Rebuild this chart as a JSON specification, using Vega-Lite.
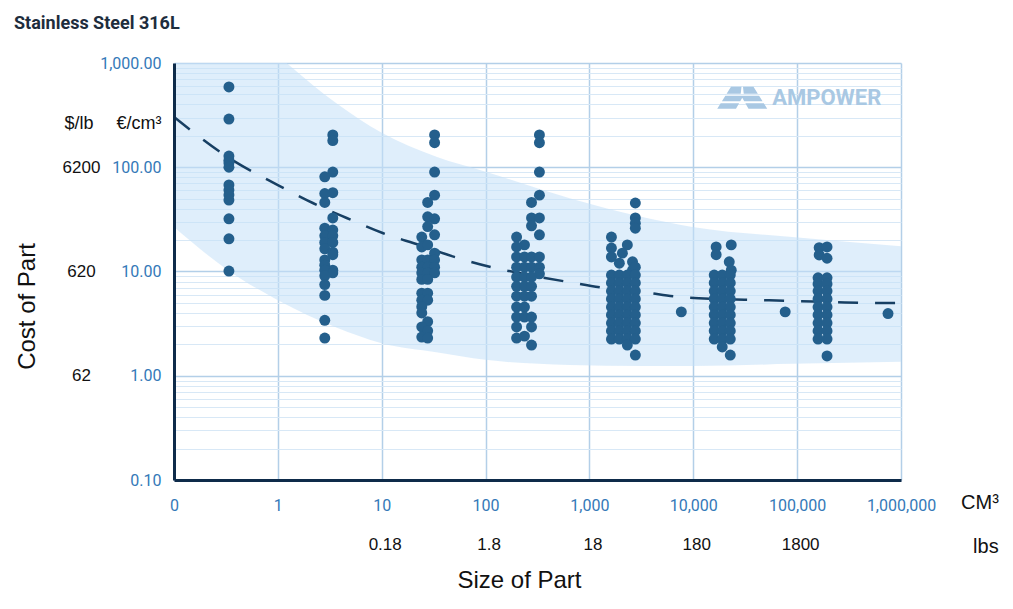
{
  "$schema": "https://vega.github.io/schema/vega-lite/v6.json",
  "width": 727,
  "height": 417,
  "autosize": {"type": "none"},
  "padding": {"left": 174, "top": 63, "right": 112, "bottom": 129},
  "background": "white",
  "config": {"view": {"stroke": null}},
  "title": {
    "text": "Stainless Steel 316L",
    "anchor": "start",
    "frame": "group",
    "dx": -160,
    "offset": 22,
    "font": "Roboto",
    "fontSize": 18,
    "fontWeight": "bold",
    "color": "#1e2d3d"
  },
  "datasets": {
    "band": [
      {"size": 0.1, "hi": 11000, "lo": 26.7},
      {"size": 0.33, "hi": 3160, "lo": 10.3},
      {"size": 1, "hi": 1180, "lo": 5.3},
      {"size": 3.66, "hi": 411, "lo": 2.9},
      {"size": 10, "hi": 214, "lo": 2.05},
      {"size": 33.6, "hi": 126, "lo": 1.68},
      {"size": 100, "hi": 90.6, "lo": 1.42},
      {"size": 645, "hi": 50.4, "lo": 1.27},
      {"size": 3230, "hi": 33.3, "lo": 1.24},
      {"size": 9800, "hi": 26.7, "lo": 1.24},
      {"size": 89500, "hi": 21.4, "lo": 1.3},
      {"size": 1000000, "hi": 17.5, "lo": 1.36}
    ],
    "trend": [
      {"size": 0.1, "cost": 303},
      {"size": 0.33, "cost": 125},
      {"size": 1, "cost": 67.5},
      {"size": 2.17, "cost": 45.4},
      {"size": 4.6, "cost": 32.6},
      {"size": 10.2, "cost": 23.4},
      {"size": 23.2, "cost": 17.9},
      {"size": 50, "cost": 13.8},
      {"size": 114, "cost": 11.0},
      {"size": 265, "cost": 9.25},
      {"size": 640, "cost": 7.9},
      {"size": 1390, "cost": 6.95},
      {"size": 3230, "cost": 6.36},
      {"size": 7670, "cost": 5.69},
      {"size": 17000, "cost": 5.45},
      {"size": 40500, "cost": 5.33},
      {"size": 89500, "cost": 5.21},
      {"size": 218000, "cost": 5.1},
      {"size": 493000, "cost": 4.99},
      {"size": 1000000, "cost": 4.99}
    ],
    "pts": [
      {"size": 0.338, "cost": 589}, {"size": 0.338, "cost": 290}, {"size": 0.338, "cost": 128},
      {"size": 0.338, "cost": 117}, {"size": 0.338, "cost": 110}, {"size": 0.338, "cost": 100},
      {"size": 0.338, "cost": 67.6}, {"size": 0.338, "cost": 60.5}, {"size": 0.338, "cost": 54.2},
      {"size": 0.338, "cost": 48.5}, {"size": 0.338, "cost": 32}, {"size": 0.338, "cost": 20.6},
      {"size": 0.338, "cost": 10.1},

      {"size": 3.38, "cost": 204}, {"size": 3.38, "cost": 180}, {"size": 3.38, "cost": 90},
      {"size": 2.83, "cost": 81}, {"size": 3.38, "cost": 57}, {"size": 2.83, "cost": 56},
      {"size": 2.83, "cost": 46}, {"size": 3.38, "cost": 32.6}, {"size": 2.83, "cost": 26},
      {"size": 3.38, "cost": 25}, {"size": 2.83, "cost": 22}, {"size": 3.38, "cost": 22},
      {"size": 2.83, "cost": 19}, {"size": 3.38, "cost": 19}, {"size": 2.83, "cost": 16.5},
      {"size": 3.38, "cost": 15.3}, {"size": 3.38, "cost": 14.5}, {"size": 2.83, "cost": 12.9},
      {"size": 2.83, "cost": 11.5}, {"size": 3.38, "cost": 10.3}, {"size": 2.83, "cost": 10.3},
      {"size": 3.38, "cost": 9.7}, {"size": 2.83, "cost": 9.1}, {"size": 2.83, "cost": 7.5},
      {"size": 2.83, "cost": 5.9}, {"size": 2.83, "cost": 3.4}, {"size": 2.83, "cost": 2.3},

      {"size": 32.3, "cost": 204}, {"size": 32.3, "cost": 172}, {"size": 32.3, "cost": 90},
      {"size": 32.3, "cost": 54}, {"size": 27.7, "cost": 46}, {"size": 27.7, "cost": 33.5},
      {"size": 32.3, "cost": 32}, {"size": 27.7, "cost": 27}, {"size": 32.3, "cost": 22.5},
      {"size": 24.3, "cost": 21.4}, {"size": 24.3, "cost": 17.2}, {"size": 27.7, "cost": 18},
      {"size": 32.3, "cost": 15}, {"size": 24.3, "cost": 12.9}, {"size": 27.7, "cost": 12.9},
      {"size": 32.3, "cost": 12.9}, {"size": 24.3, "cost": 11}, {"size": 27.7, "cost": 11},
      {"size": 32.3, "cost": 11}, {"size": 24.3, "cost": 9.7}, {"size": 27.7, "cost": 9.7},
      {"size": 32.3, "cost": 9.7}, {"size": 24.3, "cost": 8.4}, {"size": 27.7, "cost": 8.4},
      {"size": 24.3, "cost": 6.2}, {"size": 27.7, "cost": 6.2}, {"size": 24.3, "cost": 5.3},
      {"size": 27.7, "cost": 5.3}, {"size": 24.3, "cost": 4.6}, {"size": 24.3, "cost": 4.0},
      {"size": 27.7, "cost": 3.3}, {"size": 24.3, "cost": 2.94}, {"size": 27.7, "cost": 2.7},
      {"size": 24.3, "cost": 2.35}, {"size": 27.7, "cost": 2.3},

      {"size": 330, "cost": 204}, {"size": 330, "cost": 172}, {"size": 330, "cost": 90},
      {"size": 330, "cost": 54}, {"size": 277, "cost": 46}, {"size": 277, "cost": 32.6},
      {"size": 330, "cost": 32.6}, {"size": 277, "cost": 27.4}, {"size": 330, "cost": 22.5},
      {"size": 199, "cost": 21.4}, {"size": 237, "cost": 18}, {"size": 199, "cost": 17.2},
      {"size": 199, "cost": 13.8}, {"size": 237, "cost": 13.8}, {"size": 277, "cost": 13.8}, {"size": 330, "cost": 13.8},
      {"size": 199, "cost": 11}, {"size": 237, "cost": 11}, {"size": 277, "cost": 11}, {"size": 330, "cost": 11},
      {"size": 330, "cost": 9.5},
      {"size": 199, "cost": 8.85}, {"size": 237, "cost": 8.85}, {"size": 277, "cost": 8.85},
      {"size": 199, "cost": 7.2}, {"size": 237, "cost": 7.2}, {"size": 277, "cost": 7.2},
      {"size": 199, "cost": 5.8}, {"size": 237, "cost": 5.8}, {"size": 277, "cost": 5.8},
      {"size": 199, "cost": 4.56}, {"size": 237, "cost": 4.56},
      {"size": 199, "cost": 3.66}, {"size": 237, "cost": 3.66}, {"size": 277, "cost": 3.66},
      {"size": 199, "cost": 2.94}, {"size": 277, "cost": 2.94},
      {"size": 199, "cost": 2.3}, {"size": 237, "cost": 2.4}, {"size": 277, "cost": 1.97},

      {"size": 2767, "cost": 45.4}, {"size": 2767, "cost": 32.6}, {"size": 2767, "cost": 29},
      {"size": 2767, "cost": 26}, {"size": 1629, "cost": 21.4}, {"size": 1629, "cost": 16.8},
      {"size": 2317, "cost": 18}, {"size": 2076, "cost": 15}, {"size": 1629, "cost": 13.8},
      {"size": 2600, "cost": 12.4}, {"size": 2600, "cost": 10.3}, {"size": 1941, "cost": 12},
      {"size": 2767, "cost": 11},
      {"size": 1629, "cost": 9.25}, {"size": 1941, "cost": 9.25}, {"size": 2317, "cost": 9.25}, {"size": 2767, "cost": 9.25},
      {"size": 1629, "cost": 7.76}, {"size": 1941, "cost": 7.76}, {"size": 2317, "cost": 7.76}, {"size": 2767, "cost": 7.76},
      {"size": 1629, "cost": 6.5}, {"size": 1941, "cost": 6.5}, {"size": 2317, "cost": 6.5}, {"size": 2767, "cost": 6.5},
      {"size": 1629, "cost": 5.45}, {"size": 1941, "cost": 5.45}, {"size": 2317, "cost": 5.45}, {"size": 2767, "cost": 5.45},
      {"size": 1629, "cost": 4.56}, {"size": 1941, "cost": 4.56}, {"size": 2317, "cost": 4.56}, {"size": 2767, "cost": 4.56},
      {"size": 1629, "cost": 3.83}, {"size": 1941, "cost": 3.83}, {"size": 2317, "cost": 3.83}, {"size": 2767, "cost": 3.83},
      {"size": 1629, "cost": 3.2}, {"size": 1941, "cost": 3.2}, {"size": 2317, "cost": 3.2}, {"size": 2767, "cost": 3.2},
      {"size": 1629, "cost": 2.69}, {"size": 1941, "cost": 2.69}, {"size": 2317, "cost": 2.69}, {"size": 2767, "cost": 2.69},
      {"size": 1629, "cost": 2.25}, {"size": 1941, "cost": 2.25}, {"size": 2317, "cost": 2.25}, {"size": 2767, "cost": 2.25},
      {"size": 2317, "cost": 1.97}, {"size": 2767, "cost": 1.58},

      {"size": 7670, "cost": 4.1},

      {"size": 16600, "cost": 17.2}, {"size": 23200, "cost": 18}, {"size": 16600, "cost": 14.5},
      {"size": 22200, "cost": 12.4}, {"size": 23200, "cost": 10.3},
      {"size": 15900, "cost": 9.25}, {"size": 19000, "cost": 9.25}, {"size": 22700, "cost": 9.25},
      {"size": 15900, "cost": 7.76}, {"size": 19000, "cost": 7.76}, {"size": 22700, "cost": 7.76},
      {"size": 15900, "cost": 6.5}, {"size": 19000, "cost": 6.5}, {"size": 22700, "cost": 6.5},
      {"size": 15900, "cost": 5.45}, {"size": 19000, "cost": 5.45}, {"size": 22700, "cost": 5.45},
      {"size": 15900, "cost": 4.56}, {"size": 19000, "cost": 4.56}, {"size": 22700, "cost": 4.56},
      {"size": 15900, "cost": 3.83}, {"size": 19000, "cost": 3.83}, {"size": 22700, "cost": 3.83},
      {"size": 15900, "cost": 3.2}, {"size": 19000, "cost": 3.2}, {"size": 22700, "cost": 3.2},
      {"size": 15900, "cost": 2.69}, {"size": 19000, "cost": 2.69}, {"size": 22700, "cost": 2.69},
      {"size": 15900, "cost": 2.25}, {"size": 19000, "cost": 2.25}, {"size": 22700, "cost": 2.25},
      {"size": 19000, "cost": 1.89}, {"size": 22700, "cost": 1.58},

      {"size": 76700, "cost": 4.1},

      {"size": 163000, "cost": 16.9}, {"size": 194000, "cost": 17.2}, {"size": 163000, "cost": 14.4},
      {"size": 194000, "cost": 13.4},
      {"size": 159000, "cost": 8.7}, {"size": 194000, "cost": 8.7},
      {"size": 159000, "cost": 7.6}, {"size": 194000, "cost": 7.6},
      {"size": 159000, "cost": 6.5}, {"size": 194000, "cost": 6.5},
      {"size": 159000, "cost": 5.45}, {"size": 194000, "cost": 5.45},
      {"size": 159000, "cost": 4.56}, {"size": 194000, "cost": 4.56},
      {"size": 159000, "cost": 3.83}, {"size": 194000, "cost": 3.83},
      {"size": 159000, "cost": 3.2}, {"size": 194000, "cost": 3.2},
      {"size": 159000, "cost": 2.69}, {"size": 194000, "cost": 2.69},
      {"size": 159000, "cost": 2.25}, {"size": 194000, "cost": 2.25},
      {"size": 194000, "cost": 1.55},

      {"size": 750000, "cost": 3.95}
    ],
    "notes": [
      {"label": "$/lb", "size": 0.0122, "cost": 260},
      {"label": "€/cm³", "size": 0.046, "cost": 260}
    ],
    "units": [
      {"label": "CM³", "size": 5750000, "cost": 0.0596},
      {"label": "lbs", "size": 6560000, "cost": 0.0227}
    ],
    "brand": [
      {"label": "AMPOWER", "size": 57500, "cost": 465, "icon": 29600}
    ]
  },
  "resolve": {"axis": {"x": "independent", "y": "independent"}},
  "layer": [
    {
      "data": {"name": "band"},
      "mark": {"type": "area", "clip": true, "color": "#c4e0f7", "opacity": 0.55, "interpolate": "monotone"},
      "encoding": {
        "x": {
          "field": "size", "type": "quantitative",
          "scale": {"type": "log", "domain": [0.1, 1000000], "nice": false},
          "axis": {
            "orient": "bottom",
            "values": [0.1, 1, 10, 100, 1000, 10000, 100000, 1000000],
            "labelExpr": "datum.value < 0.5 ? '0' : format(datum.value, ',')",
            "grid": true, "gridColor": "#b3cfe8", "gridWidth": 1.5,
            "domain": false, "ticks": false,
            "labelFont": "Roboto", "labelFontSize": 16, "labelFontWeight": "normal", "labelColor": "#3479b8",
            "labelPadding": 17, "labelFlush": false, "labelOverlap": false,
            "title": "Size of Part", "titleFont": "Liberation Sans", "titleFontSize": 24,
            "titleFontWeight": "normal", "titleColor": "#111111",
            "titleX": 345, "titleY": 88, "titleAlign": "center", "titleBaseline": "top"
          }
        },
        "y": {
          "field": "hi", "type": "quantitative",
          "scale": {"type": "log", "domain": [0.1, 1000], "nice": false},
          "axis": {
            "orient": "left",
            "values": [0.1, 0.2, 0.3, 0.4, 0.5, 0.6, 0.7, 0.8, 0.9, 1, 2, 3, 4, 5, 6, 7, 8, 9, 10, 20, 30, 40, 50, 60, 70, 80, 90, 100, 200, 300, 400, 500, 600, 700, 800, 900, 1000],
            "labelExpr": "abs(log(datum.value) / LN10 - round(log(datum.value) / LN10)) < 0.001 ? format(datum.value, ',.2f') : ''",
            "grid": true,
            "gridColor": {"condition": {"test": "abs(log(datum.value) / LN10 - round(log(datum.value) / LN10)) < 0.001", "value": "#b3cfe8"}, "value": "#d8e8f6"},
            "gridWidth": {"condition": {"test": "abs(log(datum.value) / LN10 - round(log(datum.value) / LN10)) < 0.001", "value": 1.5}, "value": 1},
            "domain": false, "ticks": false,
            "labelFont": "Roboto", "labelFontSize": 16, "labelFontWeight": "normal", "labelColor": "#3479b8",
            "labelPadding": 13, "labelFlush": false, "labelOverlap": false,
            "title": "Cost of Part", "titleFont": "Liberation Sans", "titleFontSize": 24,
            "titleFontWeight": "normal", "titleColor": "#111111",
            "titleX": -147, "titleY": 243, "titleAngle": -90, "titleAlign": "center", "titleBaseline": "middle"
          }
        },
        "y2": {"field": "lo"}
      }
    },
    {
      "data": {"name": "trend"},
      "mark": {"type": "line", "color": "#173f63", "strokeWidth": 2.5, "strokeDash": [20, 17], "interpolate": "monotone"},
      "encoding": {
        "x": {"field": "size", "type": "quantitative", "scale": {"type": "log", "domain": [0.1, 1000000], "nice": false}, "axis": null},
        "y": {"field": "cost", "type": "quantitative", "scale": {"type": "log", "domain": [0.1, 1000], "nice": false}, "axis": null}
      }
    },
    {
      "data": {"name": "pts"},
      "mark": {"type": "circle", "size": 120, "color": "#245f8c", "opacity": 1},
      "encoding": {
        "x": {
          "field": "size", "type": "quantitative",
          "scale": {"type": "log", "domain": [0.1, 1000000], "nice": false},
          "axis": {
            "orient": "bottom",
            "values": [10, 100, 1000, 10000, 100000],
            "labelExpr": "['0.18', '1.8', '18', '180', '1800'][round(log(datum.value) / LN10) - 1]",
            "grid": false, "ticks": false,
            "domain": true, "domainColor": "#0e2b4a", "domainWidth": 3,
            "labelFont": "Liberation Sans", "labelFontSize": 17, "labelColor": "#111111",
            "labelPadding": 56, "labelOffset": 3, "labelFlush": false, "labelOverlap": false,
            "title": null, "zindex": 1
          }
        },
        "y": {
          "field": "cost", "type": "quantitative",
          "scale": {"type": "log", "domain": [0.1, 1000], "nice": false},
          "axis": {
            "orient": "left",
            "values": [1, 10, 100],
            "labelExpr": "['62', '620', '6200'][round(log(datum.value) / LN10)]",
            "grid": false, "ticks": false,
            "domain": true, "domainColor": "#0e2b4a", "domainWidth": 3,
            "labelFont": "Liberation Sans", "labelFontSize": 17, "labelColor": "#111111",
            "labelAlign": "center", "labelPadding": 93, "labelFlush": false, "labelOverlap": false,
            "title": null, "zindex": 1
          }
        }
      }
    },
    {
      "data": {"name": "notes"},
      "mark": {"type": "text", "font": "Liberation Sans", "fontSize": 18, "color": "#111111", "align": "center", "baseline": "middle"},
      "encoding": {
        "x": {"field": "size", "type": "quantitative", "scale": {"type": "log", "domain": [0.1, 1000000], "nice": false}, "axis": null},
        "y": {"field": "cost", "type": "quantitative", "scale": {"type": "log", "domain": [0.1, 1000], "nice": false}, "axis": null},
        "text": {"field": "label"}
      }
    },
    {
      "data": {"name": "units"},
      "mark": {"type": "text", "font": "Liberation Sans", "fontSize": 20, "color": "#111111", "align": "center", "baseline": "middle"},
      "encoding": {
        "x": {"field": "size", "type": "quantitative", "scale": {"type": "log", "domain": [0.1, 1000000], "nice": false}, "axis": null},
        "y": {"field": "cost", "type": "quantitative", "scale": {"type": "log", "domain": [0.1, 1000], "nice": false}, "axis": null},
        "text": {"field": "label"}
      }
    },
    {
      "data": {"name": "brand"},
      "layer": [
        {
          "mark": {"type": "text", "font": "Roboto", "fontSize": 22, "fontWeight": "bold", "color": "#a9c8e3", "align": "left", "baseline": "middle"},
          "encoding": {
            "x": {"field": "size", "type": "quantitative", "scale": {"type": "log", "domain": [0.1, 1000000], "nice": false}, "axis": null},
            "y": {"field": "cost", "type": "quantitative", "scale": {"type": "log", "domain": [0.1, 1000], "nice": false}, "axis": null},
            "text": {"field": "label"}
          }
        },
        {
          "mark": {
            "type": "point", "filled": true, "size": 2500, "color": "#a9c8e3", "opacity": 1, "strokeWidth": 0,
            "shape": "M-0.45,-0.44L-0.03,-0.44L-0.06,-0.16L-0.625,-0.16Z M0.03,-0.44L0.45,-0.44L0.625,-0.16L0.06,-0.16Z M-0.675,-0.08L0.675,-0.08L0.8125,0.14L0.08,0.14L0,0L-0.08,0.14L-0.8125,0.14Z M-0.8625,0.22L-0.125,0.22L-0.25,0.44L-1,0.44Z M0.125,0.22L0.8625,0.22L1,0.44L0.25,0.44Z"
          },
          "encoding": {
            "x": {"field": "icon", "type": "quantitative", "scale": {"type": "log", "domain": [0.1, 1000000], "nice": false}, "axis": null},
            "y": {"field": "cost", "type": "quantitative", "scale": {"type": "log", "domain": [0.1, 1000], "nice": false}, "axis": null}
          }
        }
      ]
    }
  ]
}
